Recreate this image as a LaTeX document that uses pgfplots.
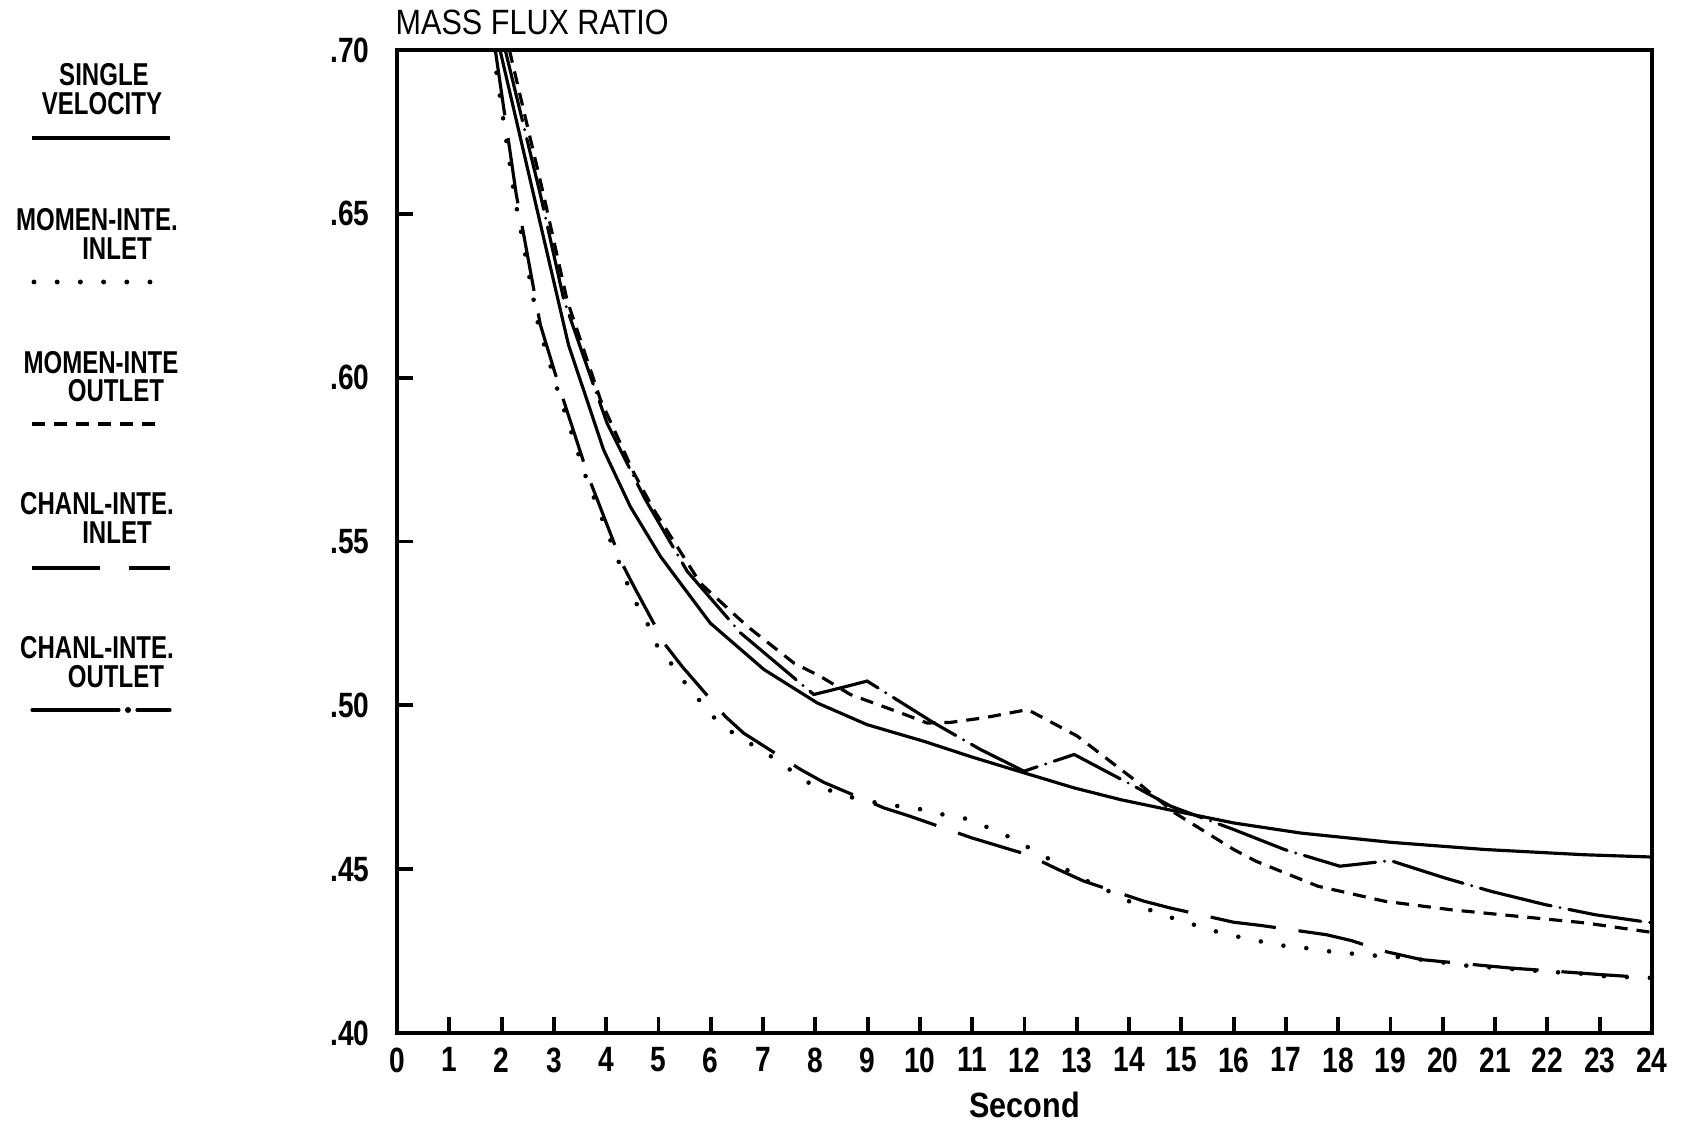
\documentclass[border=0pt]{standalone}
\usepackage{fontspec}
\setmainfont{Liberation Sans}
\usepackage{graphicx}
\usepackage{pgfplots}
\pgfplotsset{compat=1.18}
\newcommand\pl[1]{\scalebox{0.8}[1]{\bfseries #1}}
\newcommand\plg[1]{{\fontsize{9}{10}\selectfont\scalebox{0.76}[1]{\bfseries #1}}}
\newcommand\plt[1]{\scalebox{0.87}[1]{#1}}

\begin{document}
\fontsize{10}{12}\selectfont
\begin{tikzpicture}
\useasboundingbox (-39.7mm,-9.0mm) rectangle (128.5mm,103.3mm);
\begin{axis}[
  at={(0,0)}, anchor=south west,
  width=125.5mm, height=98.3mm, scale only axis,
  xmin=0, xmax=24, ymin=0.40, ymax=0.70,
  xtick={0,1,...,24},
  xticklabels={\pl{0},\pl{1},\pl{2},\pl{3},\pl{4},\pl{5},\pl{6},\pl{7},\pl{8},\pl{9},\pl{10},\pl{11},\pl{12},\pl{13},\pl{14},\pl{15},\pl{16},\pl{17},\pl{18},\pl{19},\pl{20},\pl{21},\pl{22},\pl{23},\pl{24}},
  ytick={0.40,0.45,0.50,0.55,0.60,0.65,0.70},
  yticklabels={\pl{.40},\pl{.45},\pl{.50},\pl{.55},\pl{.60},\pl{.65},\pl{.70}},
  tick align=inside, tick pos=left,
  major tick length=1.6mm,
  axis line style={line width=1.1pt},
  every tick/.style={line width=1.1pt, black},
  yticklabel style={inner sep=0pt, anchor=east, xshift=-2.7mm},
  xticklabel style={inner sep=0pt, anchor=north, yshift=-1.4mm},
  xlabel={\plt{\bfseries Second}},
  xlabel style={at={(axis description cs:0.5,0)}, anchor=center, yshift=-7.2mm, inner sep=0pt},
  title={\plt{MASS FLUX RATIO}},
  title style={at={(axis description cs:0,1)}, anchor=west, yshift=0.6mm, xshift=-0.2mm, inner sep=0pt},
]
% SINGLE VELOCITY (solid)
\addplot[black, line width=0.9pt] coordinates {
(1.97,0.700) (2.61,0.656) (3.28,0.610) (3.95,0.578) (4.46,0.5607) (5.04,0.5454)
(5.99,0.5251) (7.02,0.5109) (8.04,0.5007) (8.99,0.4941) (10.08,0.4890) (11.0,0.4842)
(11.99,0.4794) (12.95,0.4748) (13.84,0.4712) (14.74,0.4682) (16.0,0.4641) (17.29,0.4610)
(19.0,0.4582) (20.8,0.4560) (22.7,0.4544) (24.0,0.4537)};
% MOMEN-INTE. INLET (dotted)
\addplot[black, line width=1.3pt, line cap=round, dash pattern=on 0pt off 2.3mm] coordinates {
(1.84,0.700) (2.24,0.656) (2.70,0.6162) (3.07,0.5963) (3.61,0.5698) (4.25,0.5434)
(4.40,0.5373) (4.59,0.5307) (4.81,0.5243) (4.98,0.5180) (5.26,0.5124) (5.51,0.5068)
(5.80,0.5012) (6.09,0.4958) (6.43,0.4915) (7.10,0.4850) (7.88,0.4763) (8.32,0.4738)
(8.74,0.4717) (9.19,0.4702) (9.60,0.4692) (10.05,0.4682) (10.46,0.4666) (10.88,0.4654)
(11.29,0.4628) (11.71,0.4598) (12.09,0.4565) (12.47,0.4531) (12.82,0.4497) (13.21,0.4463)
(13.62,0.4432) (14.00,0.4402) (14.42,0.4374) (14.83,0.4351) (15.25,0.4330) (15.66,0.4310)
(16.11,0.4293) (16.53,0.4279) (16.97,0.4266) (17.39,0.4259) (17.83,0.4249) (18.28,0.4242)
(18.71,0.4236) (19.14,0.4232) (19.59,0.4224) (20.48,0.4205) (22.21,0.4185) (22.65,0.4181)
(23.10,0.4173) (24.00,0.4168)};
% MOMEN-INTE OUTLET (dashed)
\addplot[black, line width=0.9pt, dash pattern=on 1.3mm off 0.9mm] coordinates {
(2.15,0.700) (2.80,0.656) (3.25,0.6238) (3.89,0.5933) (4.53,0.5709) (4.91,0.5597)
(5.80,0.5373) (6.70,0.5241) (7.59,0.5129) (8.10,0.5088) (8.67,0.5033) (9.63,0.4977)
(10.14,0.4946) (10.59,0.4948) (11.23,0.4962) (12.06,0.4987) (13.01,0.4906) (14.10,0.4773)
(14.87,0.4672) (16.00,0.4560) (16.43,0.4524) (17.61,0.4448) (18.89,0.4402) (20.16,0.4376)
(21.44,0.4356) (22.72,0.4336) (24.00,0.4307)};
% CHANL-INTE. INLET (long dash)
\addplot[black, line width=0.9pt, dash pattern=on 6.6mm off 2.3mm] coordinates {
(1.88,0.700) (2.28,0.656) (2.74,0.6162) (3.12,0.5963) (3.66,0.5698) (4.30,0.5434)
(4.53,0.5363) (5.13,0.5185) (5.45,0.5119) (6.28,0.4966) (6.63,0.4915) (7.72,0.4804)
(8.16,0.4765) (9.31,0.4687) (9.82,0.4661) (11.00,0.4595) (11.48,0.4572) (12.06,0.4544)
(12.63,0.4500) (13.14,0.4463) (14.29,0.4402) (14.80,0.4381) (16.00,0.4338) (16.53,0.4328)
(17.77,0.4300) (18.25,0.4282) (18.89,0.4249) (19.59,0.4224) (20.50,0.4210) (21.31,0.4198)
(21.76,0.4193) (23.04,0.4178) (24.00,0.4168)};
% CHANL-INTE. OUTLET (long dash - dot)
\addplot[black, line width=0.9pt, line cap=round, dash pattern=on 7.3mm off 0.9mm on 0mm off 0.9mm] coordinates {
(2.07,0.700) (2.74,0.656) (3.19,0.6238) (3.70,0.6004) (4.02,0.5860) (4.59,0.5678)
(4.75,0.5628) (5.55,0.5409) (6.57,0.5221) (7.33,0.5119) (7.97,0.5033) (8.48,0.5053)
(8.99,0.5074) (10.27,0.4946) (11.16,0.4865) (11.99,0.4799) (12.95,0.4850) (14.10,0.4753)
(14.80,0.4692) (16.00,0.4621) (16.97,0.4560) (18.03,0.4509) (19.00,0.4526) (20.04,0.4473)
(20.93,0.4432) (21.95,0.4392) (22.91,0.4361) (24.00,0.4336)};
\end{axis}
% legend
\begin{scope}[every node/.style={inner sep=0pt, anchor=center}]
\node at (-29.3mm,95.8mm) {\plg{SINGLE}};
\node at (-29.5mm,92.9mm) {\plg{VELOCITY}};
\draw[line width=0.9pt] (-36.5mm,89.5mm) -- (-22.7mm,89.5mm);
\node at (-30.0mm,81.3mm) {\plg{MOMEN-INTE.}};
\node at (-28.0mm,78.4mm) {\plg{INLET}};
\draw[line width=1.4pt, line cap=round, dash pattern=on 0pt off 2.32mm] (-36.3mm,75.1mm) -- (-24.6mm,75.1mm);
\node at (-29.6mm,67.0mm) {\plg{MOMEN-INTE}};
\node at (-28.1mm,64.2mm) {\plg{OUTLET}};
\draw[line width=0.9pt, dash pattern=on 1.3mm off 0.9mm] (-36.5mm,60.9mm) -- (-23.4mm,60.9mm);
\node at (-30.0mm,52.9mm) {\plg{CHANL-INTE.}};
\node at (-28.0mm,50.0mm) {\plg{INLET}};
\draw[line width=0.9pt] (-36.5mm,46.5mm) -- (-29.7mm,46.5mm) (-26.8mm,46.5mm) -- (-22.7mm,46.5mm);
\node at (-30.0mm,38.5mm) {\plg{CHANL-INTE.}};
\node at (-28.1mm,35.6mm) {\plg{OUTLET}};
\draw[line width=0.9pt, line cap=round] (-36.5mm,32.3mm) -- (-27.8mm,32.3mm) (-26.0mm,32.3mm) -- (-22.7mm,32.3mm);
\fill (-26.9mm,32.3mm) circle (0.3mm);
\end{scope}
\end{tikzpicture}
\end{document}
